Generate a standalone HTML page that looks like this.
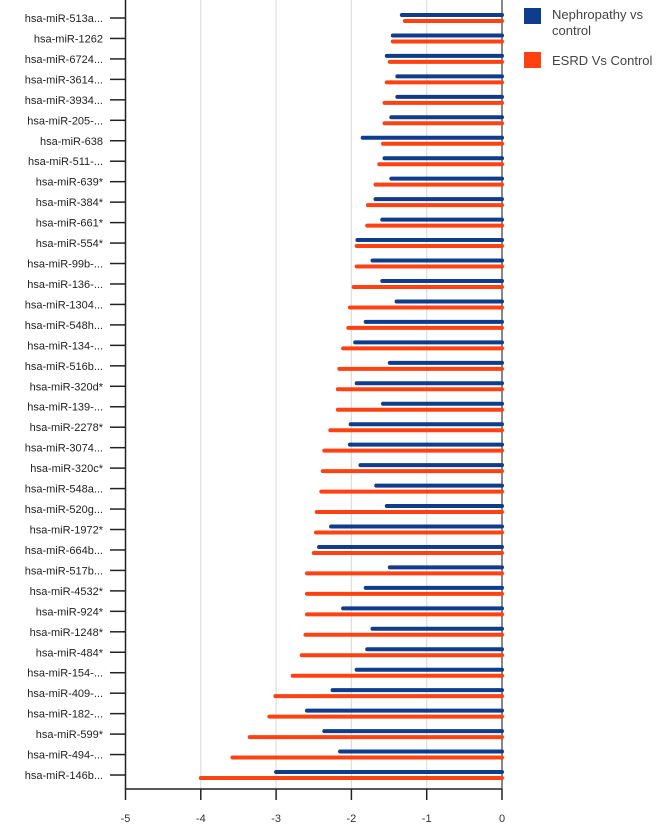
<!DOCTYPE html>
<html><head><meta charset="utf-8"><style>
body{margin:0;background:#fff;width:660px;height:829px;overflow:hidden;font-family:"Liberation Sans",sans-serif}
</style></head><body>
<svg id="chart" width="660" height="829" xmlns="http://www.w3.org/2000/svg"></svg>
<script>
const categories=["hsa-miR-513a...","hsa-miR-1262","hsa-miR-6724...","hsa-miR-3614...","hsa-miR-3934...","hsa-miR-205-...","hsa-miR-638","hsa-miR-511-...","hsa-miR-639*","hsa-miR-384*","hsa-miR-661*","hsa-miR-554*","hsa-miR-99b-...","hsa-miR-136-...","hsa-miR-1304...","hsa-miR-548h...","hsa-miR-134-...","hsa-miR-516b...","hsa-miR-320d*","hsa-miR-139-...","hsa-miR-2278*","hsa-miR-3074...","hsa-miR-320c*","hsa-miR-548a...","hsa-miR-520g...","hsa-miR-1972*","hsa-miR-664b...","hsa-miR-517b...","hsa-miR-4532*","hsa-miR-924*","hsa-miR-1248*","hsa-miR-484*","hsa-miR-154-...","hsa-miR-409-...","hsa-miR-182-...","hsa-miR-599*","hsa-miR-494-...","hsa-miR-146b..."];
const nephropathy=[-1.33,-1.45,-1.53,-1.39,-1.39,-1.47,-1.85,-1.56,-1.47,-1.68,-1.59,-1.92,-1.72,-1.59,-1.40,-1.81,-1.95,-1.49,-1.93,-1.58,-2.01,-2.02,-1.88,-1.67,-1.53,-2.27,-2.43,-1.49,-1.81,-2.11,-1.72,-1.79,-1.93,-2.25,-2.59,-2.36,-2.15,-3.00];
const esrd=[-1.29,-1.45,-1.49,-1.53,-1.56,-1.56,-1.58,-1.63,-1.68,-1.78,-1.79,-1.93,-1.93,-1.97,-2.02,-2.04,-2.11,-2.16,-2.18,-2.18,-2.28,-2.36,-2.38,-2.40,-2.46,-2.47,-2.50,-2.59,-2.59,-2.59,-2.61,-2.66,-2.78,-3.01,-3.09,-3.35,-3.58,-4.00];
const xTicks=[-5,-4,-3,-2,-1,0];
const NS="http://www.w3.org/2000/svg";
const svg=document.getElementById('chart');
const x=v=>502+v*75.3;
const y=i=>18+i*20.46;
function mk(t,a,p){const e=document.createElementNS(NS,t);for(const k in a)e.setAttribute(k,a[k]);(p||svg).appendChild(e);return e;}
xTicks.forEach(t=>{
  const g=mk('line',{x1:x(t),x2:x(t),y1:0,y2:789,stroke:t===0?'#888':'#ddd','stroke-width':t===0?2:1.2});
  
  
  const tk=mk('line',{x1:x(t),x2:x(t),y1:789,y2:800,stroke:'#222','stroke-width':1.5});
  
  
  const tl=mk('text',{x:x(t),y:822,'text-anchor':'middle','font-size':11,fill:'#333'});
  tl.textContent=t;
  
  
});
const ax=mk('line',{x1:x(-5),x2:x(0),y1:789,y2:789,stroke:'#222','stroke-width':1.5});


const ay=mk('line',{x1:x(-5),x2:x(-5),y1:0,y2:789,stroke:'#222','stroke-width':1.5});


categories.forEach((c,i)=>{
  const yy=y(i);
  const tk=mk('line',{x1:110,x2:125,y1:yy,y2:yy,stroke:'#222','stroke-width':1.5});
  
  
  const lb=mk('text',{x:103,y:yy+4,'text-anchor':'end','font-size':11,fill:'#222'});
  lb.textContent=c;
  
  
  const b=mk('line',{x1:x(nephropathy[i]),x2:x(0),y1:yy-3,y2:yy-3,stroke:'#0d3d8c','stroke-width':4,'stroke-linecap':'round'});
  
  
  const r=mk('line',{x1:x(esrd[i]),x2:x(0),y1:yy+3,y2:yy+3,stroke:'#ff4010','stroke-width':4,'stroke-linecap':'round'});
  
  
});
const l1=mk('rect',{x:524,y:8,width:17,height:16,fill:'#0d3d8c'});


const t1=mk('text',{x:552,y:19,'font-size':13,fill:'#444'});t1.textContent='Nephropathy vs';


const t1b=mk('text',{x:552,y:35,'font-size':13,fill:'#444'});t1b.textContent='control';


const l2=mk('rect',{x:524,y:52,width:17,height:16,fill:'#ff4010'});


const t2=mk('text',{x:552,y:65,'font-size':13,fill:'#444'});t2.textContent='ESRD Vs Control';


</script>
</body></html>
